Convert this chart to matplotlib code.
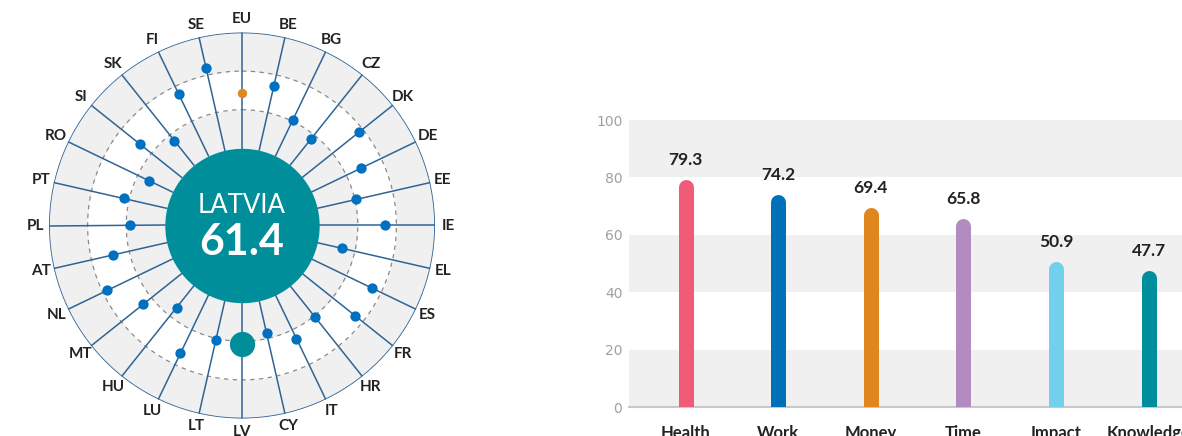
import numpy as np
import matplotlib
matplotlib.use('Agg')
import matplotlib.pyplot as plt

plt.rcParams['font.family'] = ['Lato', 'DejaVu Sans']

# radial chart: country scores, clockwise from the top
countries = ['EU', 'BE', 'BG', 'CZ', 'DK', 'DE', 'EE', 'IE', 'EL', 'ES', 'FR', 'HR', 'IT', 'CY',
             'LV', 'LT', 'LU', 'HU', 'MT', 'NL', 'AT', 'PL', 'PT', 'RO', 'SI', 'SK', 'FI', 'SE']
scores = [68.8, 74.2, 60.6, 57.0, 77.8, 68.6, 60.7, 74.2, 53.2, 74.8, 75.1, 60.7, 65.0, 57.2,
          61.4, 60.9, 73.6, 54.4, 65.6, 77.6, 68.7, 57.8, 62.9, 53.6, 67.7, 56.1, 75.4, 83.9]
focus = 'LV'
focus_name = 'LATVIA'

# bar chart: domain scores
domains = ['Health', 'Work', 'Money', 'Time', 'Impact', 'Knowledge']
domain_scores = [79.3, 74.2, 69.4, 65.8, 50.9, 47.7]
domain_colors = ['#f05b78', '#0070b8', '#e0861e', '#b28bc0', '#72d0ec', '#008e9e']

teal = '#008e9b'
spoke_col = '#2f6496'
band_col = '#f0f0f0'

W, H = 1182, 436
fig = plt.figure(figsize=(W / 100, H / 100), dpi=100)

######## radial chart ########
ax = fig.add_axes([49 / W, 17.5 / H, 386 / W, 386 / H], projection='polar')
ax.set_theta_zero_location('N')
ax.set_theta_direction(-1)
ax.set_ylim(0, 100)
ax.axis('off')

th = np.linspace(0, 2 * np.pi, 500)
ax.fill_between(th, 40, 60, color=band_col, lw=0, zorder=1)
ax.fill_between(th, 80, 100, color=band_col, lw=0, zorder=1)
ax.fill_between(th, 0, 40, color=teal, lw=0, zorder=5)
for r in [60, 80]:
    ax.plot(th, np.full_like(th, r), color='#8a8a8a', lw=0.9, ls=(0, (3.5, 3.5)), zorder=2)
ax.plot(th, np.full_like(th, 100), color=spoke_col, lw=1.2, zorder=3)

angles = np.arange(len(countries)) * 2 * np.pi / len(countries)
for t, c, v in zip(angles, countries, scores):
    ax.plot([t, t], [40, 100], color=spoke_col, lw=1.1, zorder=3)
    if c == 'EU':
        ax.scatter(t, v, s=45, color='#e3861c', zorder=6, lw=0)
    elif c == focus:
        ax.scatter(t, v, s=330, color=teal, zorder=6, lw=0)
    else:
        ax.scatter(t, v, s=55, color='#0070c0', zorder=6, lw=0)
    ax.text(t, 106.8, c, ha='center', va='center', fontsize=11, fontweight='bold', color='#222222')

focus_score = scores[countries.index(focus)]
ax.text(0.5, 0.553, focus_name, transform=ax.transAxes, ha='center', va='center',
        fontsize=18.5, color='white', zorder=7)
ax.text(0.5, 0.458, '%.1f' % focus_score, transform=ax.transAxes, ha='center', va='center',
        fontsize=31, fontweight='bold', color='white', zorder=7)

######## bar chart ########
ax_left, ax_bot, ax_h = 629.3, 436 - 407.3, 287.3
bax = fig.add_axes([ax_left / W, ax_bot / H, (W - ax_left) / W, ax_h / H])
bax.set_xlim(-0.608, 5.36)
bax.set_ylim(0, 100)
for lo in [0, 40, 80]:
    bax.axhspan(lo, lo + 20, color=band_col, lw=0, zorder=0)
bax.axhline(0, color='#c8c8c8', lw=1.5, zorder=1, clip_on=False)
for s in bax.spines.values():
    s.set_visible(False)

bar_px = 15
cap = (bar_px / 2) / (ax_h / 100)
x = np.arange(len(domains))
for i, v, col in zip(x, domain_scores, domain_colors):
    bax.plot([i, i], [0, v - cap], color=col, lw=bar_px * 0.72, solid_capstyle='round', zorder=2)
    bax.annotate('%.1f' % v, (i, v), xytext=(0, 14), textcoords='offset points',
                 ha='center', va='center', fontsize=12.5, fontweight='bold', color='#222222')

bax.set_yticks([0, 20, 40, 60, 80, 100])
bax.set_yticklabels(['0', '20', '40', '60', '80', '100'], fontsize=10, color='#a0a0a0',
                    family=['Liberation Sans Narrow', 'DejaVu Sans'])
bax.set_xticks(x)
bax.set_xticklabels(domains, fontsize=12, fontweight='bold', color='#222222')
bax.tick_params(axis='both', length=0)
bax.tick_params(axis='y', pad=5)
bax.tick_params(axis='x', pad=12.5)

fig.savefig('out.png', dpi=100)
